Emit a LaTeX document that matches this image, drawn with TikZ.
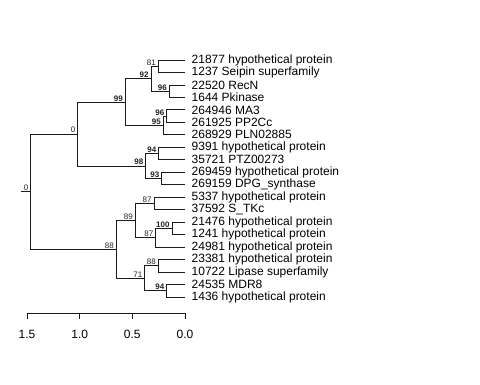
\documentclass[tikz,border=0pt]{standalone}
\usepackage{fontspec}
\setmainfont{Liberation Sans}
\usepackage{tikz}
\usetikzlibrary{calc,positioning}
\definecolor{treeline}{HTML}{1A1A1A}
\definecolor{supptext}{HTML}{222222}
\tikzset{every node/.append style={font=\rmfamily}}

\begin{document}
\begin{tikzpicture}[x=1pt,y=-1pt,
    edge/.style={treeline,line width=0.8pt},
    leaf/.style={anchor=west,inner sep=0pt,font=\fontsize{12}{12}\selectfont},
    supp/.style={anchor=south east,inner sep=0.8pt,xshift=-1.5pt,text=supptext,font=\fontsize{8}{8}\selectfont},
    suppb/.style={supp,font=\fontsize{8}{8}\selectfont\bfseries}]
  \useasboundingbox (0,0) rectangle (480,384);
  % leaves
  \foreach \txt [count=\i] in {21877 hypothetical protein,1237 Seipin superfamily,
      22520 RecN,1644 Pkinase,264946 MA3,261925 PP2Cc,268929 PLN02885,
      9391 hypothetical protein,35721 PTZ00273,269459 hypothetical protein,
      269159 DPG\_synthase,5337 hypothetical protein,37592 S\_TKc,
      21476 hypothetical protein,1241 hypothetical protein,24981 hypothetical protein,
      23381 hypothetical protein,10722 Lipase superfamily,24535 MDR8,
      1436 hypothetical protein}{
    \coordinate (t\i) at (185,{60+12.47*(\i-1)});
    \node[leaf] (l\i) at (191.5,{60+12.47*(\i-1)}) {\txt};
  }
  % inner nodes
  \coordinate (n81) at (158.3,66.24);
  \coordinate (n96a) at (169.3,91.18);
  \coordinate (n92) at (151,78.71);
  \coordinate (n96b) at (166.7,116.12);
  \coordinate (n95) at (163.3,125.47);
  \coordinate (n99) at (125.3,102.09);
  \coordinate (n94a) at (158.7,153.53);
  \coordinate (n93) at (161.7,178.47);
  \coordinate (n98) at (145.7,166);
  \coordinate (n0) at (77.7,134.04);
  \coordinate (n87a) at (154,203.41);
  \coordinate (n100) at (172,228.35);
  \coordinate (n87b) at (155.7,237.7);
  \coordinate (n89) at (135.3,220.55);
  \coordinate (n88a) at (158.3,265.76);
  \coordinate (n94b) at (166.7,290.7);
  \coordinate (n71) at (144.7,278.23);
  \coordinate (n88) at (116.3,249.39);
  \coordinate (root) at (30.7,191.72);
  \coordinate (stub) at (20.7,191.72);
  % branches
  \foreach \p/\c in {n81/t1,n81/t2,n96a/t3,n96a/t4,n92/n81,n92/n96a,
      n96b/t5,n96b/t6,n95/n96b,n95/t7,n99/n92,n99/n95,
      n94a/t8,n94a/t9,n93/t10,n93/t11,n98/n94a,n98/n93,n0/n99,n0/n98,
      n87a/t12,n87a/t13,n100/t14,n100/t15,n87b/n100,n87b/t16,n89/n87a,n89/n87b,
      n88a/t17,n88a/t18,n94b/t19,n94b/t20,n71/n88a,n71/n94b,n88/n89,n88/n71,
      root/n0,root/n88}
    \draw[edge] (\p) |- (\c);
  \draw[edge] (stub) -- (root);
  % support values
  \node[supp] (s81) at (n81) {81};
  \node[suppb] (s96a) at (n96a) {96};
  \node[suppb] (s92) at (n92) {92};
  \node[suppb] (s96b) at (n96b) {96};
  \node[suppb] (s95) at (n95) {95};
  \node[suppb] (s99) at (n99) {99};
  \node[suppb] (s94a) at (n94a) {94};
  \node[suppb] (s93) at (n93) {93};
  \node[suppb] (s98) at (n98) {98};
  \node[supp] (s0) at (n0) {0};
  \node[supp] (s87a) at (n87a) {87};
  \node[suppb] (s100) at (n100) {100};
  \node[supp] (s87b) at (n87b) {87};
  \node[supp] (s89) at (n89) {89};
  \node[supp] (s88a) at (n88a) {88};
  \node[suppb] (s94b) at (n94b) {94};
  \node[supp] (s71) at (n71) {71};
  \node[supp] (s88) at (n88) {88};
  \node[supp] (sroot) at (root) {0};
  % scale axis
  \coordinate (a0) at (27,313);
  \coordinate (a1) at (185,313);
  \draw[edge] (a0) -- (a1);
  \foreach \v/\x [count=\k] in {1.5/27,1.0/79.7,0.5/132.3,0.0/185}{
    \draw[edge] (\x,313) -- (\x,318.5);
    \node[font=\fontsize{12}{12}\selectfont,inner sep=0pt] (ax\k) at (\x,334) {\v};
  }
\end{tikzpicture}
\end{document}
